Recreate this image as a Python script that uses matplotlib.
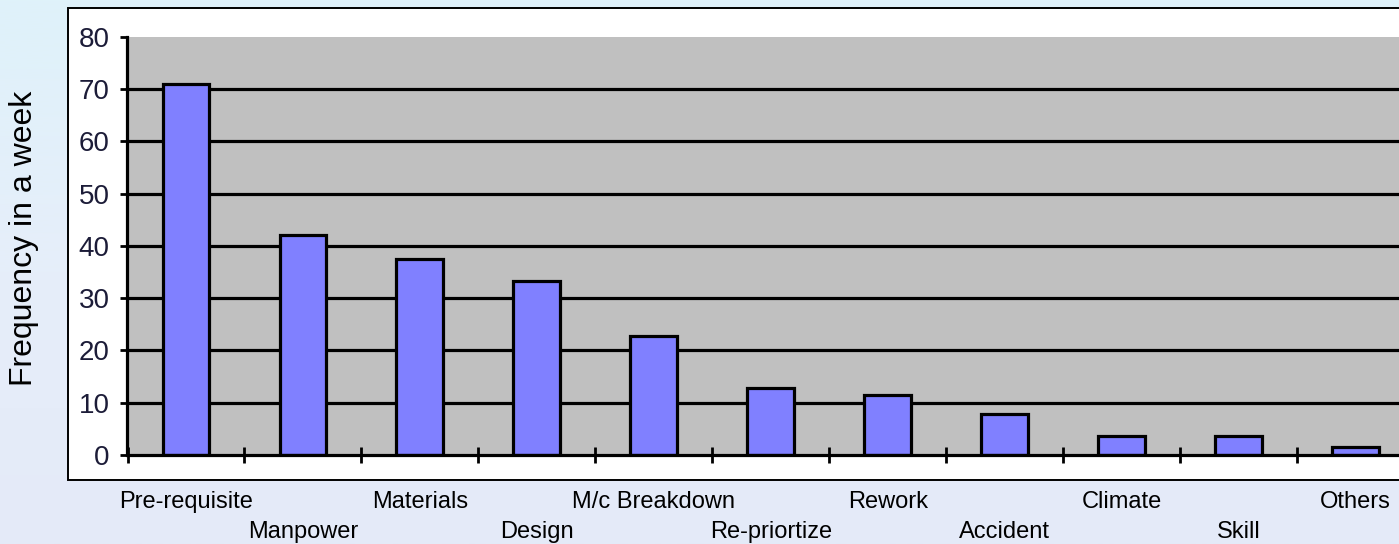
import matplotlib
matplotlib.use("Agg")
import matplotlib.pyplot as plt
from matplotlib.patches import Rectangle
from matplotlib.transforms import blended_transform_factory
from matplotlib.colors import LinearSegmentedColormap
import numpy as np

categories = ["Pre-requisite", "Manpower", "Materials", "Design", "M/c Breakdown",
              "Re-priortize", "Rework", "Accident", "Climate", "Skill", "Others"]
values = [71, 42, 37.5, 33.3, 22.8, 12.8, 11.5, 7.9, 3.7, 3.7, 1.6]
yticks = [0, 10, 20, 30, 40, 50, 60, 70, 80]

W, H = 1399, 544
fig = plt.figure(figsize=(W / 100, H / 100), dpi=100)
fig.patch.set_facecolor("#e5ecf8")

# light background gradient
bg = fig.add_axes([0, 0, 1, 1], zorder=-10)
grad = np.linspace(0, 1, 256).reshape(-1, 1)
cmap = LinearSegmentedColormap.from_list("bg", ["#dff2fa", "#e6eefa", "#e4eaf8"])
bg.imshow(grad, aspect="auto", cmap=cmap, extent=[0, 1, 0, 1])
bg.axis("off")

# white chart box
fig.patches.append(Rectangle((68 / W, 64 / H), 1.5, (480 - 8) / H, transform=fig.transFigure,
                             facecolor="white", edgecolor="black", linewidth=1.4, zorder=-5))

left = 127.5 / W
right = 1414 / W
bottom = (H - 455) / H
top = (H - 36.6) / H
ax = fig.add_axes([left, bottom, right - left, top - bottom])
ax.set_facecolor("#c0c0c0")

x = np.arange(len(categories))
ax.set_xlim(-0.5, len(categories) - 0.5)
ax.set_ylim(0, 80)

for yv in yticks[1:-1]:
    ax.axhline(yv, color="black", lw=2.3, zorder=1)

ax.bar(x, values, width=0.4, color="#8080ff", edgecolor="black", linewidth=2.3, zorder=3)

for s in ["top", "right"]:
    ax.spines[s].set_visible(False)
for s in ["left", "bottom"]:
    ax.spines[s].set_linewidth(2.3)
    ax.spines[s].set_zorder(4)

ax.set_yticks(yticks)
ax.set_yticklabels([str(v) for v in yticks], fontsize=20, color="#1c1c38",
                   family=["Liberation Sans", "DejaVu Sans"])
ax.tick_params(axis="y", direction="out", length=5, width=2, pad=8)
ax.set_xticks(np.arange(len(categories) + 1) - 0.5)
ax.set_xticklabels([])
ax.tick_params(axis="x", direction="inout", length=11, width=2)

tr = blended_transform_factory(ax.transData, fig.transFigure)
for i, name in enumerate(categories):
    yb = (H - 508) / H if i % 2 == 0 else (H - 538) / H
    ax.text(i, yb, name, transform=tr, ha="center", va="baseline", fontsize=17,
            color="black", family=["Liberation Sans", "DejaVu Sans"], clip_on=False)

fig.text(24 / W, (H - 238) / H, "Frequency in a week", rotation=90, ha="center", va="center",
         fontsize=23, color="black", family=["Liberation Sans", "DejaVu Sans"])

fig.savefig("out.png", dpi=100, facecolor=fig.get_facecolor())
